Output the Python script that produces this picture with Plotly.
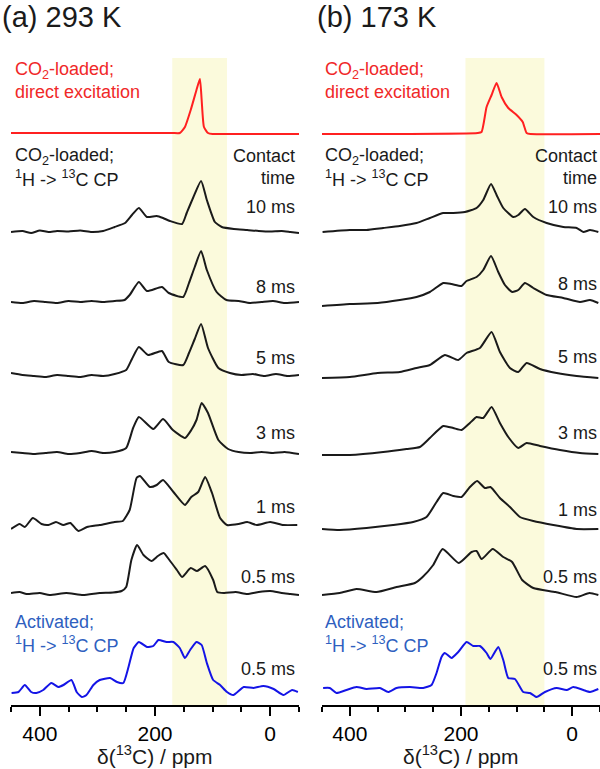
import plotly.graph_objects as go

# chemical shift (ppm) and intensity
a_direct_ppm = [450, 300, 170, 157, 148, 138, 128, 122, 119, 115, 108, 100, 60, -50]
a_direct_int = [1, 1, 1, 1, 7, 24, 44, 55, 34, 7, 1, 0, 0, 0]

a_10_ppm = [450, 430, 415, 400, 385, 370, 350, 330, 310, 290, 270, 252, 240, 228, 214, 197, 186, 174,
            153, 145, 134, 120, 110, 96, 84, 63, 40, 20, 0, -20, -35, -50]
a_10_int = [0, 1, -1, 1.5, 0, 1, 0.5, 1.5, 0, 1, 5, 9, 17, 24, 15, 16, 14, 11,
            8, 19, 34, 51, 32, 10, 5, 3, 2, 1, 0.5, 1, 0, -1]

a_8_ppm = [450, 430, 410, 390, 370, 350, 330, 310, 290, 270, 253, 244, 228, 214, 188, 176, 151, 141,
           131, 120, 110, 93, 76, 55, 35, 15, -5, -25, -50]
a_8_int = [0, -1, 1, 0, -1, 1, 0, 1, 0, 1, 2, 7, 20, 11, 15, 9, 5, 19,
           35, 51, 32, 10, 2, 1, -1, 0, 1, -1, 0]

a_5_ppm = [450, 430, 410, 390, 370, 350, 330, 310, 290, 270, 250, 240, 228, 212, 188, 176, 151, 141,
           131, 120, 108, 90, 70, 50, 30, 10, -10, -30, -50]
a_5_int = [2, 0, -1, -2, 0, -1, -2, 0, -1, 1, 5, 16, 28, 20, 24, 13, 10, 22,
           36, 51, 27, 7, 2, 0, 1, -1, 1, -1, 0]

a_3_ppm = [450, 430, 410, 390, 370, 350, 330, 310, 290, 270, 250, 238, 228, 203, 186, 169, 148, 137,
           128, 119, 108, 90, 73, 55, 35, 15, -5, -25, -50]
a_3_int = [1, 0, -1, 0, 1, -1, 0, 2, 0, 1, 5, 25, 36, 24, 34, 23, 15, 23,
           33, 50, 40, 13, 4, 1, 0, 1, 0, 1, -1]

a_1_ppm = [450, 435, 426, 412, 397, 385, 372, 359, 347, 333, 318, 296, 270, 256, 244, 232, 226, 209,
           197, 186, 168, 148, 137, 125, 113, 101, 87, 75, 55, 40, 23, 0, -23, -47]
a_1_int = [-4, 1, -2, 7, 1, 0, 3, 0, 2, -6, -2, 0, 3, 4, 15, 47, 49, 38,
           40, 45, 33, 20, 28, 33, 48, 32, 7, 0, 1, 3, 0, 3, 0, 0]

a_05_ppm = [450, 435, 423, 400, 383, 354, 325, 296, 273, 258, 250, 241, 231, 220, 206, 195, 185, 175,
            162, 153, 138, 127, 113, 99, 92, 80, 60, 40, 20, 0, -20, -35, -50]
a_05_int = [0, 1, -1, 0, -2, 0, -2, 0, 0.5, 2, 6, 33, 48, 38, 32, 37, 40, 33,
            23, 16, 25, 22, 27, 13, 1, 0, 1, -1, 1, 2, 0, -1, -2]

a_act_ppm = [449, 437, 426, 415, 406, 394, 380, 368, 359, 345, 336, 327, 319, 307, 296, 278, 266, 255,
             246, 237, 228, 214, 203, 194, 180, 168, 157, 148, 139, 128, 119, 110, 99, 87, 75, 64,
             46, 29, 12, -6, -23, -38, -48]
a_act_int = [-1, 0, 7, 0, -1, 2, 9, 5, 7, 12, 0, -5, -3, 7, 12, 14, 10, 9,
             25, 44, 50, 45, 46, 52, 50, 50, 44, 34, 42, 50, 47, 29, 12, 7, 0, -3,
             5, 4, 6, 3, -3, 2, 0]

b_direct_ppm = [450, 300, 170, 163, 154, 145, 136, 127, 115, 100, 89, 82, 75, -50]
b_direct_int = [0, 0, 1, 2, 27, 39, 51, 37, 26, 19, 12, 1, 0, 0]

b_10_ppm = [449, 400, 370, 340, 310, 280, 256, 232, 214, 193, 172, 160, 146, 136, 124, 106, 97, 85,
            70, 46, 16, -8, -20, -32, -47]
b_10_int = [0, 2, 2, 4, 6, 9, 14, 19, 19, 20, 24, 32, 48, 37, 24, 15, 17, 23,
            15, 9, 5, 4, 0, 2, 0]

b_8_ppm = [450, 400, 350, 310, 280, 256, 232, 217, 199, 190, 172, 160, 146, 133, 121, 108, 97, 85,
           70, 46, 16, -14, -32, -47]
b_8_int = [-1, 1, 2, 5, 8, 13, 22, 21, 19, 24, 28, 35, 49, 33, 20, 13, 15, 22,
           17, 10, 7, 3, 5, 2]

b_5_ppm = [450, 400, 350, 310, 280, 256, 229, 205, 190, 166, 145, 130, 112, 97, 82, 58, 28, -8, -47]
b_5_int = [-1, 0, 4, 5, 9, 12, 22, 17, 24, 29, 45, 25, 9, 5, 14, 8, 4, 1, -1]

b_3_ppm = [450, 400, 340, 298, 274, 256, 232, 214, 199, 184, 172, 160, 145, 130, 115, 97, 82, 58,
           22, -14, -47]
b_3_int = [0, 0, 3, 6, 8, 17, 29, 27, 25, 32, 38, 37, 48, 32, 18, 7, 12, 9,
           5, 2, 1]

b_1_ppm = [450, 418, 370, 322, 286, 262, 244, 232, 214, 199, 184, 171, 157, 147, 130, 112, 94, 70,
           34, -8, -47]
b_1_int = [-1, -2, 0, 3, 6, 11, 26, 35, 32, 31, 41, 47, 40, 41, 30, 21, 11, 7,
           3, -1, -1]

b_05_ppm = [450, 418, 388, 352, 316, 283, 269, 250, 233, 204, 181, 172, 163, 143, 124, 108, 90, 70,
            30, -8, -31, -47]
b_05_int = [-2, 0, 4, 1, 6, 10, 16, 28, 44, 30, 41, 42, 34, 44, 36, 31, 13, 5,
            1, -4, 0, -2]

b_act_ppm = [448, 436, 424, 406, 388, 370, 346, 331, 316, 292, 268, 253, 244, 235, 229, 217, 205, 190,
             178, 166, 154, 147, 133, 124, 115, 103, 88, 76, 64, 49, 28, 10, -2, -20, -32, -47]
b_act_int = [2, 2, -3, 0, 3, 1, 2, -2, 2, 3, 2, 5, 17, 33, 37, 32, 38, 48,
             44, 44, 37, 31, 43, 30, 12, 11, -2, -3, -7, -2, 2, 0, 3, 0, -2, 1]

times = ["10 ms", "8 ms", "5 ms", "3 ms", "1 ms", "0.5 ms"]
panel_titles = ["(a) 293 K", "(b) 173 K"]
shade_a = [170, 75]
shade_b = [192, 50]

RED = "#ff2020"
BLACK = "#1a1a1a"
BLUE = "#1414e6"
RED_TXT = "#f02828"
BLUE_TXT = "#2f5fbf"
FONT = "Liberation Sans, Arial, sans-serif"

W, H, AX = 600, 769, 705   # axis line sits at pixel row AX


def px(x, y):
    return x / W, (AX - y) / AX


panels = [
    dict(xa="x", ya="y", dom=[11 / W, 299 / W], shade=shade_a, left=13, right=297, tx=0,
         spectra=[(a_direct_ppm, a_direct_int, RED, 134),
                  (a_10_ppm, a_10_int, BLACK, 232), (a_8_ppm, a_8_int, BLACK, 302),
                  (a_5_ppm, a_5_int, BLACK, 375), (a_3_ppm, a_3_int, BLACK, 453),
                  (a_1_ppm, a_1_int, BLACK, 525), (a_05_ppm, a_05_int, BLACK, 593),
                  (a_act_ppm, a_act_int, BLUE, 692)],
         label_y=[207, 287, 358, 433, 507, 577]),
    dict(xa="x2", ya="y2", dom=[322 / W, 1.0], shade=shade_b, left=323, right=599, tx=315,
         spectra=[(b_direct_ppm, b_direct_int, RED, 134),
                  (b_10_ppm, b_10_int, BLACK, 232), (b_8_ppm, b_8_int, BLACK, 305),
                  (b_5_ppm, b_5_int, BLACK, 377), (b_3_ppm, b_3_int, BLACK, 455),
                  (b_1_ppm, b_1_int, BLACK, 528), (b_05_ppm, b_05_int, BLACK, 593),
                  (b_act_ppm, b_act_int, BLUE, 690)],
         label_y=[207, 284, 357, 433, 510, 577]),
]

fig = go.Figure()
shapes, annotations = [], []

for i, p in enumerate(panels):
    for ppm, inten, col, base in p["spectra"]:
        fig.add_trace(go.Scatter(
            x=ppm, y=[AX - base + v for v in inten], xaxis=p["xa"], yaxis=p["ya"],
            mode="lines", line=dict(color=col, width=2, shape="spline", smoothing=0.5),
            showlegend=False, hoverinfo="skip",
        ))
    shapes.append(dict(type="rect", xref=p["xa"], yref=p["ya"], x0=p["shade"][0], x1=p["shade"][1],
                       y0=0, y1=AX - 58, fillcolor="#fbfadc", line_width=0, layer="below"))

    def note(text, x, y, anchor="left", color=BLACK, size=18):
        xx, yy = px(x, y)
        annotations.append(dict(text=text, x=xx, y=yy, xref="paper", yref="paper",
                                xanchor=anchor, yanchor="middle", showarrow=False,
                                font=dict(family=FONT, size=size, color=color)))

    note(panel_titles[i], p["tx"], 17, size=29)
    note("CO<sub>2</sub>-loaded;", p["left"], 70, color=RED_TXT)
    note("direct excitation", p["left"], 92, color=RED_TXT)
    note("CO<sub>2</sub>-loaded;", p["left"], 156)
    note("<sup>1</sup>H -> <sup>13</sup>C CP", p["left"], 178)
    note("Contact", p["right"], 156, anchor="right")
    note("time", p["right"], 178, anchor="right")
    for t, ly in zip(times, p["label_y"]):
        note(t, p["right"], ly, anchor="right")
    note("Activated;", p["left"], 622, color=BLUE_TXT)
    note("<sup>1</sup>H -> <sup>13</sup>C CP", p["left"], 644, color=BLUE_TXT)
    note("0.5 ms", p["right"], 669, anchor="right")
    note("δ(<sup>13</sup>C) / ppm", (p["dom"][0] + p["dom"][1]) / 2 * W, 755, anchor="center", size=21)

axis_style = dict(
    range=[450, -50], showgrid=False, zeroline=False, showline=True, linecolor="black", linewidth=2,
    ticks="outside", ticklen=9, tickwidth=2, tickcolor="black",
    tick0=0, dtick=200,
    tickfont=dict(family=FONT, size=21, color="black"),
    minor=dict(dtick=50, tick0=0, ticks="outside", ticklen=5, tickwidth=2, tickcolor="black"),
)
# extra overlay axis only for the long unlabelled ticks at every 100 ppm
long_ticks = dict(range=[450, -50], showgrid=False, zeroline=False, showline=False,
                  ticks="outside", ticklen=9, tickwidth=2, tickcolor="black",
                  tick0=0, dtick=100, showticklabels=False)
yaxis_style = dict(range=[0, AX], visible=False, fixedrange=True)

fig.update_layout(
    width=W, height=H,
    margin=dict(l=0, r=0, t=0, b=H - AX),
    plot_bgcolor="white", paper_bgcolor="white",
    xaxis=dict(domain=panels[0]["dom"], anchor="y", **axis_style),
    xaxis2=dict(domain=panels[1]["dom"], anchor="y2", **axis_style),
    xaxis3=dict(domain=panels[0]["dom"], anchor="y", overlaying="x", side="bottom", **long_ticks),
    xaxis4=dict(domain=panels[1]["dom"], anchor="y2", overlaying="x2", side="bottom", **long_ticks),
    yaxis=dict(anchor="x", **yaxis_style),
    yaxis2=dict(anchor="x2", **yaxis_style),
    shapes=shapes,
    annotations=annotations,
)

fig.write_html("out.html", config={"displayModeBar": False},
               post_script="document.body.style.margin='0px';")
